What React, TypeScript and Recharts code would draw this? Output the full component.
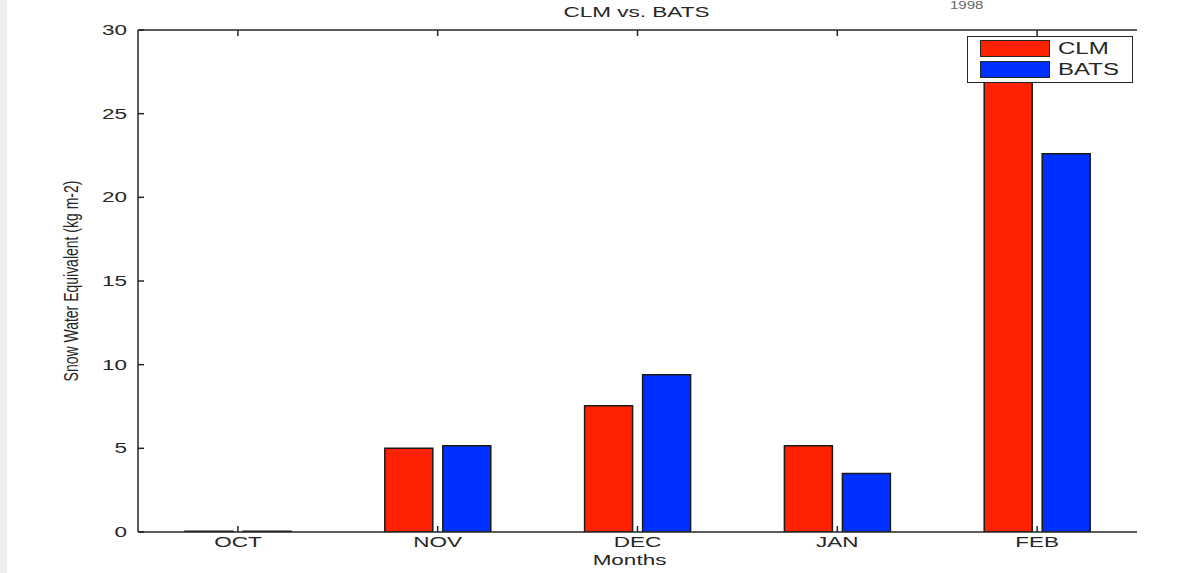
import { BarChart, Bar, XAxis, YAxis, Legend } from 'recharts';

const months = ['OCT', 'NOV', 'DEC', 'JAN', 'FEB'];
const seriesNames = ['CLM', 'BATS'];
const clm = [0.05, 5.0, 7.55, 5.15, 28.5];
const bats = [0.05, 5.15, 9.4, 3.5, 22.6];
const yTicks = [0, 5, 10, 15, 20, 25, 30];

const data = months.map((m, i) => ({ month: m, CLM: clm[i], BATS: bats[i] }));

const SX = 1.5;
const FS = 15;
const FONT = 'Arial, "Liberation Sans", Helvetica, sans-serif';
const INK = '#262626';
const RED = '#ff2200';
const BLUE = '#0030ff';

const Stretch = ({ x, y, anchor = 'middle', size = FS, fill = INK, children }: any) => (
  <text
    transform={`translate(${x},${y}) scale(${SX},1)`}
    textAnchor={anchor}
    fontFamily={FONT}
    fontSize={size}
    fill={fill}
  >
    {children}
  </text>
);

const LeftTick = (p: any) => (
  <g>
    <line x1={p.x} x2={p.x + 6} y1={p.y} y2={p.y} stroke={INK} strokeWidth={1.5} />
    <Stretch x={p.x - 11} y={p.y + 5} anchor="end">{p.payload.value}</Stretch>
  </g>
);

const RightTick = (p: any) => (
  <line x1={p.x} x2={p.x - 6} y1={p.y} y2={p.y} stroke={INK} strokeWidth={1.5} />
);

const BottomTick = (p: any) => (
  <g>
    <line x1={p.x} x2={p.x} y1={p.y} y2={p.y - 6} stroke={INK} strokeWidth={1.5} />
    <Stretch x={p.x} y={p.y + 15}>{p.payload.value}</Stretch>
  </g>
);

const TopTick = (p: any) => (
  <line x1={p.x} x2={p.x} y1={p.y} y2={p.y + 6} stroke={INK} strokeWidth={1.5} />
);

const MonthsLabel = ({ viewBox }: any) => (
  <Stretch x={viewBox.x + viewBox.width / 2 - 8} y={viewBox.y + 33}>Months</Stretch>
);

const YLabel = ({ viewBox }: any) => {
  const cx = viewBox.x + viewBox.width - 60;
  const cy = viewBox.y + viewBox.height / 2;
  return (
    <g>
      <text
        transform={`translate(${cx},${cy}) scale(${SX},1) rotate(-90)`}
        textAnchor="middle"
        fontFamily={FONT}
        fontSize={14}
        fill={INK}
      >
        Snow Water Equivalent (kg m-2)
      </text>
    </g>
  );
};

const LegendBox = ({ payload }: any) => {
  const items = [...(payload || [])].sort(
    (a: any, b: any) => seriesNames.indexOf(a.value) - seriesNames.indexOf(b.value)
  );
  return (
    <div
      style={{
        width: 164,
        height: 45,
        border: `1.5px solid ${INK}`,
        background: '#fff',
        fontFamily: FONT,
        fontSize: 16,
        color: INK,
        position: 'relative',
      }}
    >
      {items.map((e: any, i: number) => (
        <div
          key={e.value}
          style={{ position: 'absolute', left: 12, top: 3 + i * 21, height: 17, display: 'flex', alignItems: 'center' }}
        >
          <div style={{ width: 68, height: 15, background: e.color, border: `1px solid ${INK}` }} />
          <span
            style={{ marginLeft: 8, display: 'inline-block', transform: `scaleX(${SX})`, transformOrigin: 'left center' }}
          >
            {e.value}
          </span>
        </div>
      ))}
    </div>
  );
};

export default function App() {
  return (
    <div style={{ position: 'absolute', left: 0, top: 0, width: 1180, height: 573, background: '#fff' }}>
      <div style={{ position: 'absolute', left: 0, top: 0, width: 7, height: 573, background: '#eeeeee' }} />
      <BarChart
        width={1180}
        height={573}
        data={data}
        margin={{ top: 29, right: 43, left: 0, bottom: 0 }}
        barSize={48}
        barGap={10}
      >
        <XAxis
          dataKey="month"
          height={41}
          tickSize={0}
          tickMargin={0}
          tick={<BottomTick />}
          axisLine={{ stroke: INK, strokeWidth: 1.5 }}
          tickLine={false}
          interval={0}
          label={{ content: MonthsLabel }}
        />
        <XAxis
          xAxisId="top"
          dataKey="month"
          orientation="top"
          height={1}
          tickSize={0}
          tickMargin={0}
          tick={<TopTick />}
          axisLine={{ stroke: INK, strokeWidth: 1.5 }}
          tickLine={false}
          interval={0}
        />
        <YAxis
          width={138}
          domain={[0, 30]}
          ticks={yTicks}
          allowDataOverflow
          tickSize={0}
          tickMargin={0}
          tick={<LeftTick />}
          axisLine={{ stroke: INK, strokeWidth: 1.5 }}
          tickLine={false}
          label={{ content: YLabel }}
        />
        <YAxis
          yAxisId="right"
          orientation="right"
          width={0}
          domain={[0, 30]}
          ticks={yTicks}
          tickSize={0}
          tickMargin={0}
          tick={<RightTick />}
          axisLine={{ stroke: INK, strokeWidth: 1.5 }}
          tickLine={false}
        />
        <Legend
          layout="vertical"
          align="center"
          verticalAlign="middle"
          content={<LegendBox />}
          wrapperStyle={{ left: 967, top: 36, width: 168, height: 48 }}
        />
        <Bar dataKey="CLM" fill={RED} stroke="#1a1a1a" strokeWidth={1.5} isAnimationActive={false} />
        <Bar dataKey="BATS" fill={BLUE} stroke="#1a1a1a" strokeWidth={1.5} isAnimationActive={false} />
      </BarChart>
      <div
        style={{
          position: 'absolute',
          left: 0,
          top: 4,
          width: 1270,
          textAlign: 'center',
          fontFamily: FONT,
          fontSize: FS,
          color: INK,
          transform: `scaleX(${SX})`,
          transformOrigin: '632px 0',
          lineHeight: '16px',
        }}
      >
        CLM vs. BATS
      </div>
      <div
        style={{
          position: 'absolute',
          left: 950,
          top: 0,
          fontFamily: FONT,
          fontSize: 10,
          color: '#666',
          transform: `scaleX(${SX})`,
          transformOrigin: 'left top',
          lineHeight: '11px',
        }}
      >
        1998
      </div>
    </div>
  );
}
